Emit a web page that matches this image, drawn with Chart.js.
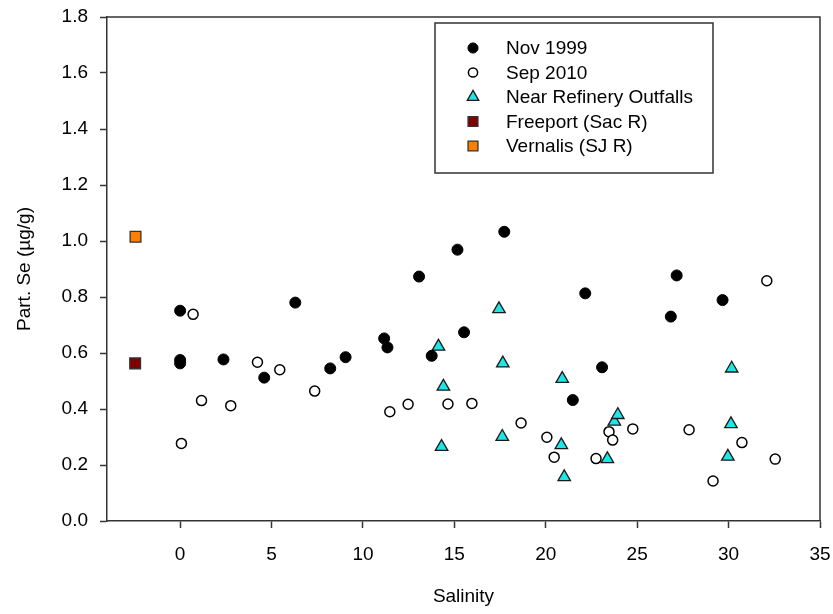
<!DOCTYPE html>
<html>
<head>
<meta charset="utf-8">
<script src="https://cdn.jsdelivr.net/npm/chart.js@4/dist/chart.umd.min.js"></script>
<style>
  html, body { margin: 0; padding: 0; background: #fff; }
  #wrap { width: 833px; height: 614px; }
</style>
</head>
<body>
<div id="wrap"><canvas id="chart"></canvas></div>
<script>
// ---- data (salinity, Part. Se in ug/g) ----
const nov1999X = [0, 0, 0, 2.37, 4.6, 6.3, 8.21, 9.05, 11.16, 11.34, 13.07, 13.76, 15.17, 15.53, 17.73, 21.48, 22.16, 23.08, 26.84, 27.16, 29.67];
const nov1999Y = [0.751, 0.575, 0.563, 0.577, 0.512, 0.78, 0.545, 0.585, 0.652, 0.62, 0.873, 0.59, 0.969, 0.674, 1.033, 0.432, 0.813, 0.549, 0.73, 0.877, 0.789];

const sep2010X = [0.71, 0.07, 1.17, 2.77, 4.23, 5.45, 7.36, 11.47, 12.47, 14.65, 15.96, 18.65, 20.06, 20.46, 22.75, 23.46, 23.66, 24.76, 27.84, 29.15, 30.73, 32.09, 32.55];
const sep2010Y = [0.738, 0.277, 0.43, 0.412, 0.567, 0.54, 0.464, 0.39, 0.417, 0.418, 0.42, 0.35, 0.299, 0.228, 0.223, 0.319, 0.289, 0.329, 0.326, 0.143, 0.28, 0.858, 0.221];

const refineryX = [14.13, 14.4, 14.3, 17.44, 17.65, 17.62, 20.9, 20.85, 21.01, 23.37, 23.75, 23.94, 30.17, 30.13, 29.96];
const refineryY = [0.623, 0.48, 0.265, 0.757, 0.563, 0.301, 0.508, 0.271, 0.157, 0.221, 0.355, 0.379, 0.545, 0.346, 0.23];

const freeportX = [-2.46];
const freeportY = [0.563];
const vernalisX = [-2.44];
const vernalisY = [1.015];

const xTickValues = [0, 5, 10, 15, 20, 25, 30, 35];
const yTickValues = [0, 0.2, 0.4, 0.6, 0.8, 1.0, 1.2, 1.4, 1.6, 1.8];

const seriesNames = ['Nov 1999', 'Sep 2010', 'Near Refinery Outfalls', 'Freeport (Sac R)', 'Vernalis (SJ R)'];

// ---- helpers ----
const toPoints = (xs, ys) => xs.map((x, i) => ({ x: x, y: ys[i] }));
const FONT = 'Arial, "Liberation Sans", Helvetica, sans-serif';
const FONT_SIZE = 19;
const AXIS_COLOR = '#333333';

// box round the plot: left/bottom come from the axes, top/right drawn here
const frameBox = {
    id: 'frameBox',
    afterDraw(chart) {
        const { ctx, chartArea: a } = chart;
        ctx.save();
        ctx.strokeStyle = AXIS_COLOR;
        ctx.lineWidth = 1.5;
        ctx.beginPath();
        ctx.moveTo(a.left, a.top);
        ctx.lineTo(a.right, a.top);
        ctx.lineTo(a.right, a.bottom);
        ctx.stroke();
        ctx.restore();
    }
};

// boxed legend inside the plot, SigmaPlot style
const boxLegend = {
    id: 'boxLegend',
    afterDraw(chart) {
        const { ctx, chartArea: a } = chart;
        const left = a.left + 328, top = a.top + 6, w = 278, h = 150;
        ctx.save();
        ctx.fillStyle = '#ffffff';
        ctx.fillRect(left, top, w, h);
        ctx.strokeStyle = AXIS_COLOR;
        ctx.lineWidth = 1.5;
        ctx.strokeRect(left, top, w, h);

        ctx.font = FONT_SIZE + 'px ' + FONT;
        ctx.textBaseline = 'middle';
        ctx.textAlign = 'left';
        chart.data.datasets.forEach((ds, i) => {
            const y = top + 25 + i * 24.5;
            const x = left + 38;
            ctx.fillStyle = ds.backgroundColor;
            ctx.strokeStyle = ds.borderColor;
            ctx.lineWidth = ds.borderWidth;
            const opts = {
                pointStyle: ds.pointStyle,
                radius: ds.pointRadius * 0.92,
                borderWidth: ds.borderWidth,
                rotation: 0
            };
            if (Chart.helpers && Chart.helpers.drawPoint) {
                Chart.helpers.drawPoint(ctx, opts, x, y);
            } else {
                ctx.beginPath();
                ctx.arc(x, y, opts.radius, 0, Math.PI * 2);
                ctx.fill();
                ctx.stroke();
            }
            ctx.fillStyle = '#000';
            ctx.fillText(ds.label, left + 71, y + 1);
        });
        ctx.restore();
    }
};

new Chart(document.getElementById('chart'), {
    type: 'scatter',
    data: {
        datasets: [
            {
                label: seriesNames[0],
                data: toPoints(nov1999X, nov1999Y),
                pointStyle: 'circle',
                pointRadius: 5.5,
                backgroundColor: '#000000',
                borderColor: '#000000',
                borderWidth: 1
            },
            {
                label: seriesNames[1],
                data: toPoints(sep2010X, sep2010Y),
                pointStyle: 'circle',
                pointRadius: 5,
                backgroundColor: '#ffffff',
                borderColor: '#000000',
                borderWidth: 1.5
            },
            {
                label: seriesNames[2],
                data: toPoints(refineryX, refineryY),
                pointStyle: 'triangle',
                pointRadius: 7.2,
                backgroundColor: '#1ee6e6',
                borderColor: '#1a1a1a',
                borderWidth: 1.3
            },
            {
                label: seriesNames[3],
                data: toPoints(freeportX, freeportY),
                pointStyle: 'rect',
                pointRadius: 7.6,
                backgroundColor: '#800000',
                borderColor: '#333333',
                borderWidth: 1.3
            },
            {
                label: seriesNames[4],
                data: toPoints(vernalisX, vernalisY),
                pointStyle: 'rect',
                pointRadius: 7.6,
                backgroundColor: '#ff8000',
                borderColor: '#333333',
                borderWidth: 1.3
            }
        ]
    },
    options: {
        responsive: true,
        maintainAspectRatio: false,
        animation: false,
        layout: { padding: { top: 17, right: 13, left: 0, bottom: 0 } },
        plugins: {
            legend: { display: false },
            tooltip: { enabled: false }
        },
        scales: {
            x: {
                type: 'linear',
                min: -4,
                max: 35,
                afterBuildTicks: (axis) => { axis.ticks = xTickValues.map(v => ({ value: v })); },
                afterFit: (axis) => {
                    axis.height = 93;
                    axis.paddingLeft = 0;
                    axis.paddingRight = 0;
                },
                ticks: {
                    color: '#000',
                    font: { family: FONT, size: FONT_SIZE },
                    padding: 15,
                    maxRotation: 0,
                    callback: (v) => String(v)
                },
                grid: {
                    drawOnChartArea: false,
                    drawTicks: true,
                    tickLength: 7,
                    tickWidth: 1.5,
                    tickColor: AXIS_COLOR
                },
                border: { display: true, color: AXIS_COLOR, width: 1.5 },
                title: {
                    display: true,
                    text: 'Salinity',
                    color: '#000',
                    font: { family: FONT, size: FONT_SIZE },
                    padding: { top: 6, bottom: 6 }
                }
            },
            y: {
                type: 'linear',
                min: 0,
                max: 1.8,
                afterBuildTicks: (axis) => { axis.ticks = yTickValues.map(v => ({ value: v })); },
                afterFit: (axis) => {
                    axis.width = 107;
                    axis.paddingTop = 0;
                    axis.paddingBottom = 0;
                },
                ticks: {
                    color: '#000',
                    font: { family: FONT, size: FONT_SIZE },
                    padding: 12,
                    callback: (v) => Number(v).toFixed(1)
                },
                grid: {
                    drawOnChartArea: false,
                    drawTicks: true,
                    tickLength: 7,
                    tickWidth: 1.5,
                    tickColor: AXIS_COLOR
                },
                border: { display: true, color: AXIS_COLOR, width: 1.5 },
                title: {
                    display: true,
                    text: 'Part. Se (µg/g)',
                    color: '#000',
                    font: { family: FONT, size: FONT_SIZE },
                    padding: { top: 13, bottom: 13 }
                }
            }
        }
    },
    plugins: [frameBox, boxLegend]
});
</script>
</body>
</html>
